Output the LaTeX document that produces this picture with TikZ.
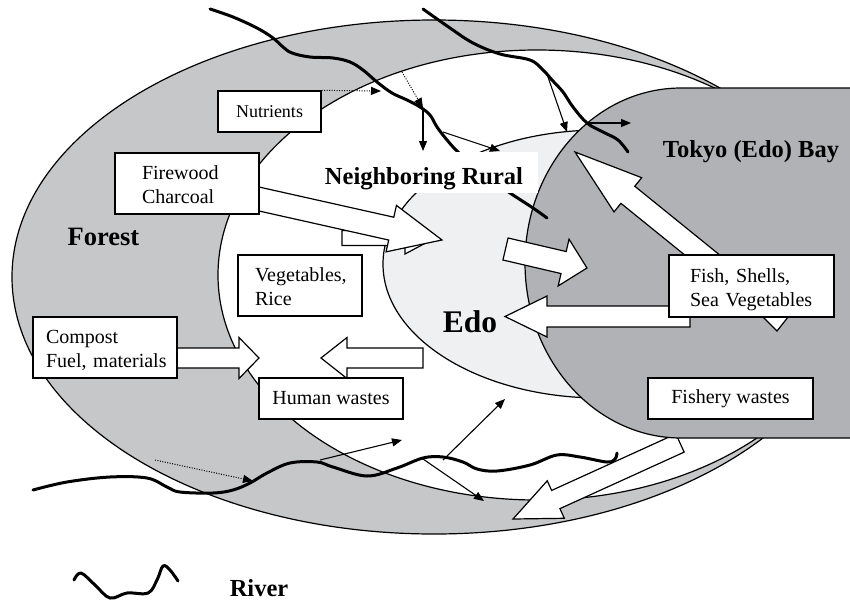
\documentclass[tikz,border=0pt]{standalone}
\usepackage{fontspec}
\setmainfont{Liberation Serif}
\usetikzlibrary{arrows.meta}
\definecolor{forestgray}{RGB}{198,199,201}
\definecolor{baygray}{RGB}{177,178,181}
\definecolor{edofill}{RGB}{239,240,242}
\tikzset{
 region/.style={draw=black, line width=1.2pt},
 blockarrow/.style={draw=black, fill=white, line width=1.2pt, line join=miter},
 river/.style={line width=3pt, line cap=round, line join=round},
 thinarrow/.style={line width=1.1pt, -{Triangle[length=10pt,width=8pt]}},
 dotarrow/.style={line width=1pt, dash pattern=on 1pt off 1.5pt, -{Triangle[length=10pt,width=8pt]}},
 box/.style={draw=black, fill=white, line width=1.3pt, inner sep=0pt, font=\fontsize{20}{24}\selectfont},
 mlbox/.style={box, align=left, text height=14pt, text depth=22pt},
 biglabel/.style={font=\bfseries\fontsize{24.5}{28}\selectfont, inner sep=0pt}
}
\newcommand\blkarrow[7]{%
  \pgfmathsetmacro\baang{atan2(-(#4-#2),#3-#1)}%
  \pgfmathsetmacro\balen{veclen(#3-#1,#4-#2)}%
  \pgfmathsetmacro\babase{\balen-#6}%
  \begin{scope}[shift={(#1,#2)},rotate=\baang]
   \draw[blockarrow] (0,-#5) -- (\babase,-#5) -- (\babase,-#7) -- (\balen,0) -- (\babase,#7) -- (\babase,#5) -- (0,#5) -- cycle;
  \end{scope}}
\begin{document}
\begin{tikzpicture}[x=1pt,y=-1pt]
\useasboundingbox (0,0) rectangle (850,600);
% regions
\draw[region, fill=forestgray] (434,277) ellipse [x radius=422pt, y radius=257pt];
\draw[region, fill=white] (537,275) ellipse [x radius=319pt, y radius=225pt];
\draw[region, fill=edofill] (600,264) ellipse [x radius=217pt, y radius=134pt];
% arrow from bay to the bottom (under the bay)
\blkarrow{680}{443}{513}{519}{10}{47}{20.6}
\draw[region, fill=baygray] (856,88) -- (681,88) arc[start angle=90, end angle=270, x radius=156pt, y radius=175pt] -- (856,438) -- cycle;
% rivers
\draw[river] plot[smooth, tension=0.6] coordinates {(210,9) (233,17) (257,28) (273,38) (283,47) (292,53) (310,57) (333,58) (350,62) (363,70) (377,82) (392,93) (407,100) (420,107) (430,115) (437,127) (447,140) (458,152) (480,172) (500,186) (513,195) (533,208) (547,218)};
\draw[river] plot[smooth, tension=0.6] coordinates {(423,9) (450,28) (473,43) (500,54) (530,60) (543,70) (552,80) (563,92) (573,107) (587,123) (603,132) (618,140) (628,152)};
\draw[river] plot[smooth, tension=0.6] coordinates {(33,490) (67,482) (110,477) (147,478) (167,487) (180,492) (213,493) (233,490) (250,483) (267,473) (290,463) (317,462) (333,467) (367,476) (397,468) (423,458) (443,457) (463,462) (477,469) (497,471) (530,465) (557,455) (580,457) (607,462) (615,459) (617,453)};
% boxes
\node[box, minimum width=103pt, minimum height=41pt, font=\fontsize{18}{22}\selectfont] (nut) at (269.5,111.5) {Nutrients};
% thin arrows
\coordinate (n1) at (381,91);
\coordinate (n2s) at (402,72);
\coordinate (n2) at (423,108);
\coordinate (n3) at (423,151);
\coordinate (n4s) at (443,132);
\coordinate (n4) at (500,151);
\coordinate (n5s) at (548,77);
\coordinate (n5) at (567,132);
\coordinate (n6s) at (586,123);
\coordinate (n6) at (631,123);
\coordinate (s1s) at (155,460);
\coordinate (s1) at (253,481);
\coordinate (s2s) at (320,460);
\coordinate (s2) at (402,440);
\coordinate (s3s) at (443,460);
\coordinate (s3) at (505,399);
\coordinate (s4s) at (423,459);
\coordinate (s4) at (484,501);
\draw[dotarrow] (nut.north east) -- (n1);
\draw[dotarrow] (n2s) -- (n2);
\draw[thinarrow] (n2) -- (n3);
\draw[thinarrow] (n4s) -- (n4);
\draw[thinarrow] (n5s) -- (n5);
\draw[thinarrow] (n6s) -- (n6);
\draw[dotarrow] (s1s) -- (s1);
\draw[thinarrow] (s2s) -- (s2);
\draw[thinarrow] (s3s) -- (s3);
\draw[thinarrow] (s4s) -- (s4);
% block arrows
\blkarrow{342}{238}{435}{238}{7.5}{30}{16}
\blkarrow{230}{192.5}{442}{240}{11.7}{52}{23.8}
\blkarrow{505.5}{249}{587}{268}{11.3}{24}{24}
\blkarrow{690}{316.5}{505}{316.5}{10.5}{42}{20.5}
\blkarrow{160}{358}{259}{358}{10}{20}{20.5}
\blkarrow{423}{358}{321}{358}{10}{26}{20.5}
\blkarrow{730.4}{277.8}{575}{152}{11}{68}{22}
\draw[blockarrow] (758,312) -- (777,331) -- (792,312) -- cycle;
% text boxes
\node[mlbox, text width=90pt, inner xsep=27pt, minimum width=144pt, minimum height=61pt] (fire) at (187,183.5) {Firewood\\Charcoal};
\node[mlbox, text width=90pt, inner xsep=17pt, minimum width=124pt, minimum height=61pt] (veg) at (300,285.5) {\mbox{Vegetables,}\\Rice};
\node[mlbox, text width=118pt, inner xsep=13pt, minimum width=144pt, minimum height=61pt] (compost) at (105,347.5) {Compost\\\mbox{Fuel, materials}};
\node[box, minimum width=144pt, minimum height=41pt] (human) at (331,398.5) {Human wastes};
\node[mlbox, text width=123pt, inner xsep=21pt, minimum width=165pt, minimum height=62pt] (fish) at (751.5,286) {Fish, Shells,\\\mbox{Sea Vegetables}};
\node[box, minimum width=165pt, minimum height=41pt] (fishery) at (730.5,398.5) {Fishery wastes};
% labels
\node[biglabel, fill=white, anchor=base, text height=32pt, text depth=9pt, minimum width=228pt] (rural) at (424,184) {Neighboring Rural};
\node[biglabel, font=\bfseries\fontsize{26.5}{30}\selectfont, anchor=base] (forest) at (103.5,245) {Forest};
\node[biglabel, font=\bfseries\fontsize{31.5}{36}\selectfont, anchor=base] (edo) at (470,332) {Edo};
\node[biglabel, anchor=base] (bay) at (751,157) {Tokyo (Edo) Bay};
% legend
\draw[river] plot[smooth, tension=0.6] coordinates {(74,580) (81,573) (95,585) (110,598) (127,593) (148,593) (157,580) (163,566) (170,570) (178,581)};
\node[biglabel, anchor=base] (river) at (259,596) {River};
\end{tikzpicture}
\end{document}
